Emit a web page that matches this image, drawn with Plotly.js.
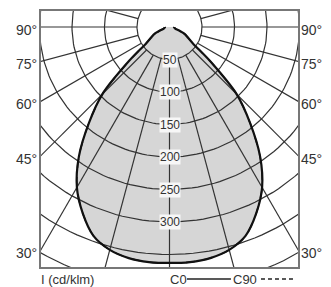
<!DOCTYPE html>
<html>
<head>
<meta charset="utf-8">
<script src="https://cdn.plot.ly/plotly-3.0.1.min.js"></script>
<style>html,body{margin:0;padding:0;background:#fff;}#chart{width:331px;height:287px;}</style>
</head>
<body>
<div id="chart"></div>
<script>
// Angles from nadir (degrees) and luminous intensity (cd/klm)
const angles = [0, 5, 10, 15, 20, 25, 30, 35, 40, 45, 50, 55, 60, 65, 70, 75, 80, 85, 90];
const c0 =     [363, 363, 361, 355, 342, 316, 285, 243, 193, 146, 81, 44, 33, 26, 15, 9, 8, 7, 7];
const c90 =    [363, 363, 361, 355, 342, 316, 285, 243, 193, 146, 81, 44, 33, 26, 15, 9, 8, 7, 7];

const gridRadii = [50, 100, 150, 200, 250, 300, 350, 400];
const radialAngles = [-105, -90, -75, -60, -45, -30, -15, 0, 15, 30, 45, 60, 75, 90, 105];
const radiusLabels = ['50', '100', '150', '200', '250', '300'];
const angleLabels = [90, 75, 60, 45, 30];

const XMAX = 197.7;
const rad = d => d * Math.PI / 180;

function curveXY(vals) {
  const xs = [], ys = [];
  for (let i = angles.length - 1; i >= 0; i--) {
    xs.push(-vals[i] * Math.sin(rad(angles[i])));
    ys.push(vals[i] * Math.cos(rad(angles[i])));
  }
  for (let i = 1; i < angles.length; i++) {
    xs.push(vals[i] * Math.sin(rad(angles[i])));
    ys.push(vals[i] * Math.cos(rad(angles[i])));
  }
  return {xs, ys};
}

// grid circles
const gx = [], gy = [];
gridRadii.forEach(r => {
  for (let a = -180; a <= 180; a += 2) {
    gx.push(r * Math.sin(rad(a)));
    gy.push(r * Math.cos(rad(a)));
  }
  gx.push(null); gy.push(null);
});
// radial lines, starting at the first circle
const rx = [], ry = [];
radialAngles.forEach(a => {
  rx.push(gridRadii[0] * Math.sin(rad(a)), 800 * Math.sin(rad(a)), null);
  ry.push(gridRadii[0] * Math.cos(rad(a)), 800 * Math.cos(rad(a)), null);
});

const k0 = curveXY(c0);
const k90 = curveXY(c90);

const traces = [
  {x: k0.xs, y: k0.ys, type: 'scatter', mode: 'lines', fill: 'toself',
   fillcolor: '#d6d6d6', line: {width: 0, shape: 'spline', smoothing: 0.8}, hoverinfo: 'skip'},
  {x: gx, y: gy, type: 'scatter', mode: 'lines', line: {color: '#333', width: 1.2}, hoverinfo: 'skip'},
  {x: rx, y: ry, type: 'scatter', mode: 'lines', line: {color: '#333', width: 1.2}, hoverinfo: 'skip'},
  {x: k90.xs, y: k90.ys, type: 'scatter', mode: 'lines', name: 'C90',
   line: {color: '#111', width: 1.5, dash: 'dash', shape: 'spline', smoothing: 0.8}},
  {x: k0.xs, y: k0.ys, type: 'scatter', mode: 'lines', name: 'C0',
   line: {color: '#111', width: 2.2, shape: 'spline', smoothing: 0.8}}
];

const FONT = 'Liberation Sans, Arial, sans-serif';
const annotations = [];
radiusLabels.forEach(t => {
  annotations.push({x: 0, y: +t, xref: 'x', yref: 'y', text: t, showarrow: false,
    font: {family: FONT, size: 12, color: '#333'}, bgcolor: '#f7f7f7', borderpad: 0,
    xanchor: 'center', yanchor: 'middle'});
});
angleLabels.forEach(a => {
  const yy = a === 90 ? 0 : XMAX / Math.tan(rad(a));
  annotations.push({x: 0, y: yy, xref: 'paper', yref: 'y', text: a + '°', showarrow: false,
    font: {family: FONT, size: 14, color: '#333'}, xanchor: 'right', yanchor: 'middle', xshift: -2, yshift: -3});
  annotations.push({x: 1, y: yy, xref: 'paper', yref: 'y', text: a + '°', showarrow: false,
    font: {family: FONT, size: 14, color: '#333'}, xanchor: 'left', yanchor: 'middle', xshift: 1, yshift: -3});
});
annotations.push({x: 0, y: -0.047, xref: 'paper', yref: 'paper', text: 'I (cd/klm)', showarrow: false,
  font: {family: FONT, size: 13, color: '#333'}, xanchor: 'left', yanchor: 'middle', xshift: -2});
annotations.push({x: 0.502, y: -0.047, xref: 'paper', yref: 'paper', text: 'C0', showarrow: false,
  font: {family: FONT, size: 13, color: '#333'}, xanchor: 'left', yanchor: 'middle', xshift: -2});
annotations.push({x: 0.747, y: -0.047, xref: 'paper', yref: 'paper', text: 'C90', showarrow: false,
  font: {family: FONT, size: 13, color: '#333'}, xanchor: 'left', yanchor: 'middle', xshift: -2});

const layout = {
  width: 331, height: 287,
  margin: {l: 41, r: 33, t: 11, b: 20, pad: 0},
  paper_bgcolor: '#fff', plot_bgcolor: '#fff',
  showlegend: false,
  xaxis: {range: [-XMAX, XMAX], showgrid: false, zeroline: false, showticklabels: false, ticks: '',
    showline: true, mirror: true, linecolor: '#777', linewidth: 1.6, fixedrange: true},
  yaxis: {range: [369.2, -24.6], showgrid: false, zeroline: false, showticklabels: false, ticks: '',
    showline: true, mirror: true, linecolor: '#777', linewidth: 1.6, fixedrange: true},
  annotations: annotations,
  shapes: [
    {type: 'line', xref: 'paper', yref: 'paper', x0: 0.568, x1: 0.739, y0: -0.047, y1: -0.047,
     line: {color: '#222', width: 1.5}},
    {type: 'line', xref: 'paper', yref: 'paper', x0: 0.856, x1: 0.988, y0: -0.047, y1: -0.047,
     line: {color: '#222', width: 1.5, dash: '4px,3px'}}
  ]
};

Plotly.newPlot('chart', traces, layout, {displayModeBar: false, staticPlot: true});
</script>
</body>
</html>
